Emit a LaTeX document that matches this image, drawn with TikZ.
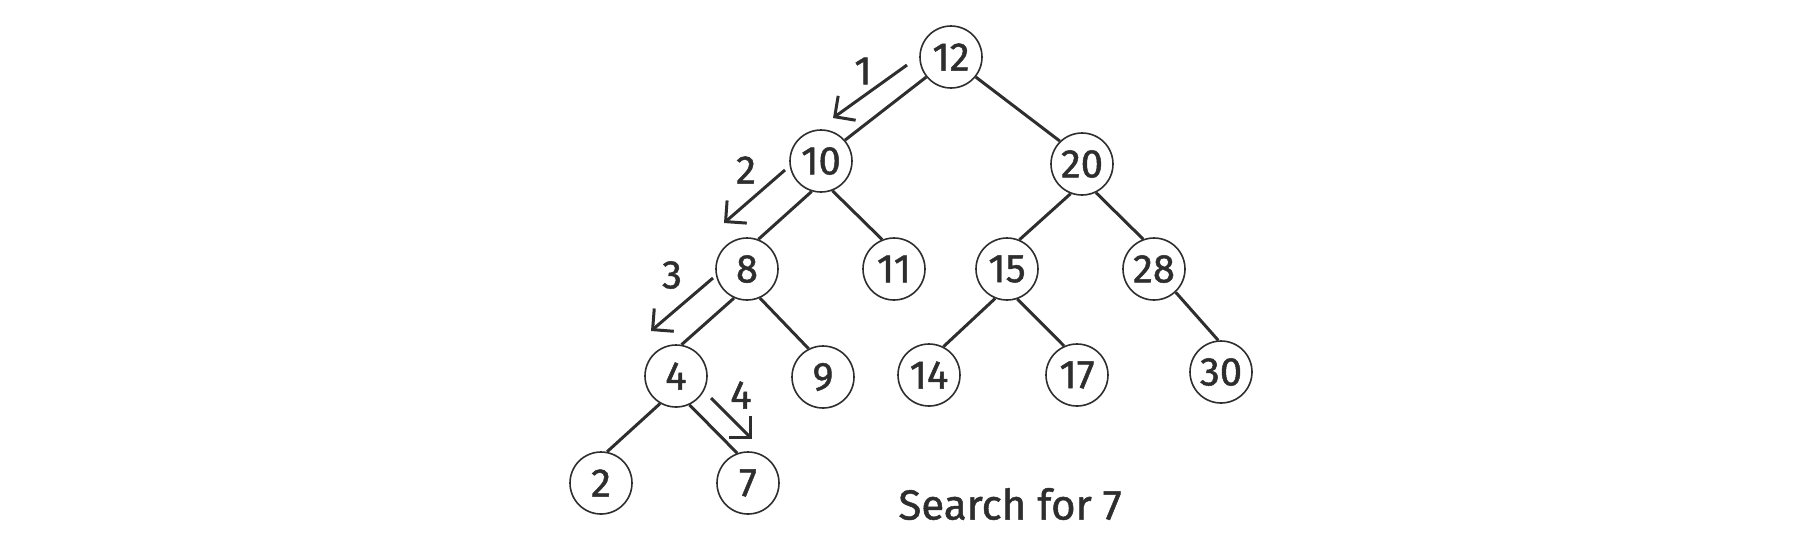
\documentclass[tikz,border=0pt]{standalone}
\usepackage{fontspec}
\setmainfont{Fira Sans}[FakeBold=1.2]
\usetikzlibrary{arrows.meta}
\definecolor{ink}{HTML}{2E2E2E}
\begin{document}
\begin{tikzpicture}[x=0.5pt,y=-0.5pt,
  vert/.style={circle,draw=ink,line width=0.8pt,minimum size=31pt,inner sep=0pt,
    font=\fontsize{20}{20}\selectfont,text=ink},
  edge/.style={draw=ink,line width=1.5pt},
  walk/.style={draw=ink,line width=1.5pt,-{Straight Barb[length=7.5pt,width=15pt]}},
  lbl/.style={inner sep=0pt,font=\fontsize{20}{20}\selectfont,text=ink}]
\useasboundingbox (0,0) rectangle (1800,532);
% vertices
\node[vert] (n12) at (951,57) {12};
\node[vert] (n10) at (821,161) {10};
\node[vert] (n20) at (1082,164) {20};
\node[vert] (n8)  at (747,269) {8};
\node[vert] (n11) at (894,269) {11};
\node[vert] (n15) at (1007,269) {15};
\node[vert] (n28) at (1154,269) {28};
\node[vert] (n4)  at (676,376) {4};
\node[vert] (n9)  at (823,377) {9};
\node[vert] (n14) at (929,375) {14};
\node[vert] (n17) at (1077,375) {17};
\node[vert] (n30) at (1221,372) {30};
\node[vert] (n2)  at (601,483) {2};
\node[vert] (n7)  at (748,483) {7};
% tree edges
\draw[edge] (n12.219) -- (n10.41);
\draw[edge] (n12.-39) -- (n20.134);
\draw[edge] (n10.-107) -- (n8.69);
\draw[edge] (n10.-69) -- (n11.112);
\draw[edge] (n20.-111) -- (n15.67);
\draw[edge] (n20.-64) -- (n28.110);
\draw[edge] (n8.-114) -- (n4.80);
\draw[edge] (n8.-66) -- (n9.117);
\draw[edge] (n15.-112) -- (n14.63);
\draw[edge] (n15.-71) -- (n17.114);
\draw[edge] (n28.-47) -- (n30.95);
\draw[edge] (n4.-120) -- (n2.79);
\draw[edge] (n4.-65) -- (n7.110);
% search path arrows
\coordinate (a1s) at (907,65);   \coordinate (a1e) at (833,118);
\coordinate (a2s) at (785,170);  \coordinate (a2e) at (724,223);
\coordinate (a3s) at (713,278);  \coordinate (a3e) at (651,331);
\coordinate (a4s) at (711,398);  \coordinate (a4e) at (752,439);
\draw[walk] (a1s) -- (a1e);
\draw[walk] (a2s) -- (a2e);
\draw[walk] (a3s) -- (a3e);
\draw[walk] (a4s) -- (a4e);
\node[lbl] (l1) at (863,71) {1};
\node[lbl] (l2) at (746,170) {2};
\node[lbl] (l3) at (672,275) {3};
\node[lbl] (l4) at (741,395) {4};
\node[lbl,font=\fontsize{21}{21}\selectfont] (title) at (1010,504) {Search for 7};
\end{tikzpicture}
\end{document}
